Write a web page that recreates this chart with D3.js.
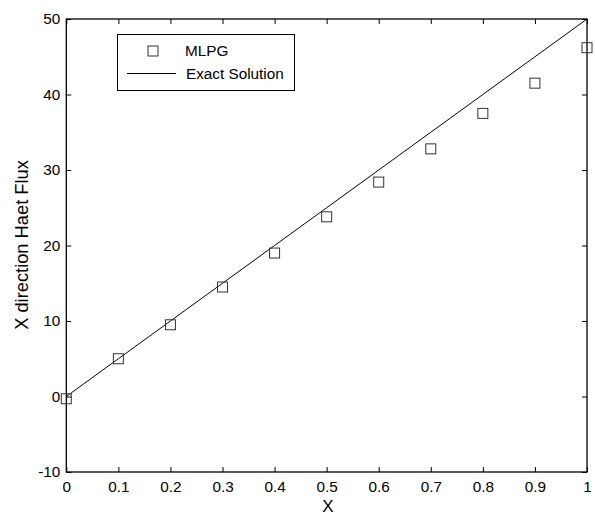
<!DOCTYPE html>
<html><head><meta charset="utf-8">
<script src="https://cdn.jsdelivr.net/npm/d3@7"></script>
<style>body{margin:0;background:#fff}svg{display:block}text{font-family:"Liberation Sans",Arial,sans-serif}</style>
</head><body>
<script>
const mlpgX = [0,0.1,0.2,0.3,0.4,0.5,0.6,0.7,0.8,0.9,1.0];
const mlpgY = [-0.3,5.0,9.5,14.5,19.0,23.8,28.4,32.8,37.5,41.5,46.2];
const exactX = [0,0.1,0.2,0.3,0.4,0.5,0.6,0.7,0.8,0.9,1.0];
const exactY = [0,5,10,15,20,25,30,35,40,45,50];
const xTicks = [0,0.1,0.2,0.3,0.4,0.5,0.6,0.7,0.8,0.9,1];
const yTicks = [-10,0,10,20,30,40,50];
const legendLabels = ["MLPG","Exact Solution"];

const W=595,H=517;
const L=66.3,R=587,T=19,B=472;
const svg=d3.select("body").append("svg").attr("width",W).attr("height",H);
const x=d3.scaleLinear().domain([0,1]).range([L,R]);
const y=d3.scaleLinear().domain([-10,50]).range([B,T]);
const fs=15.3;

const gx=svg.append("g").attr("transform",`translate(0,${B})`)
 .call(d3.axisBottom(x).tickValues(xTicks).tickSize(-5).tickPadding(9).tickFormat(d=>String(d)));
const gxt=svg.append("g").attr("transform",`translate(0,${T})`)
 .call(d3.axisTop(x).tickValues(xTicks).tickSize(-5).tickFormat(""));
const gy=svg.append("g").attr("transform",`translate(${L},0)`)
 .call(d3.axisLeft(y).tickValues(yTicks).tickSize(-5).tickPadding(6).tickFormat(d=>String(d)));
const gyr=svg.append("g").attr("transform",`translate(${R},0)`)
 .call(d3.axisRight(y).tickValues(yTicks).tickSize(-5).tickFormat(""));
[gx,gxt,gy,gyr].forEach(g=>{
  g.select(".domain").remove();
  g.selectAll("line").attr("stroke","#000").attr("stroke-width",1);
  g.selectAll("text").attr("font-size",fs).attr("fill","#000").attr("font-family","Liberation Sans, Arial, sans-serif");
});
svg.append("rect").attr("x",L).attr("y",T).attr("width",R-L).attr("height",B-T)
 .attr("fill","none").attr("stroke","#000").attr("stroke-width",1.3);

const line=d3.line().x(d=>x(d[0])).y(d=>y(d[1]));
svg.append("path").datum(exactX.map((v,i)=>[v,exactY[i]])).attr("d",line)
 .attr("fill","none").attr("stroke","#000").attr("stroke-width",1);

const ms=10;
svg.append("g").selectAll("rect").data(mlpgX.map((v,i)=>[v,mlpgY[i]])).join("rect")
 .attr("x",d=>x(d[0])-ms/2).attr("y",d=>y(d[1])-ms/2).attr("width",ms).attr("height",ms)
 .attr("fill","none").attr("stroke","#333").attr("stroke-width",1);

const lg=svg.append("g");
lg.append("rect").attr("x",117.5).attr("y",34.5).attr("width",177).attr("height",56)
 .attr("fill","#fff").attr("stroke","#000").attr("stroke-width",1);
lg.append("rect").attr("x",148).attr("y",46).attr("width",10).attr("height",10)
 .attr("fill","none").attr("stroke","#333");
lg.append("line").attr("x1",127).attr("x2",176).attr("y1",73.5).attr("y2",73.5).attr("stroke","#000");
lg.append("text").attr("x",185).attr("y",56).attr("font-size",fs).text(legendLabels[0]);
lg.append("text").attr("x",186).attr("y",79).attr("font-size",fs).text(legendLabels[1]);

svg.append("text").attr("x",328).attr("y",512).attr("text-anchor","middle").attr("font-size",17).text("X");
svg.append("text").attr("transform",`translate(28,245) rotate(-90)`).attr("text-anchor","middle").attr("font-size",18.3).text("X direction Haet Flux");
</script>
</body></html>
